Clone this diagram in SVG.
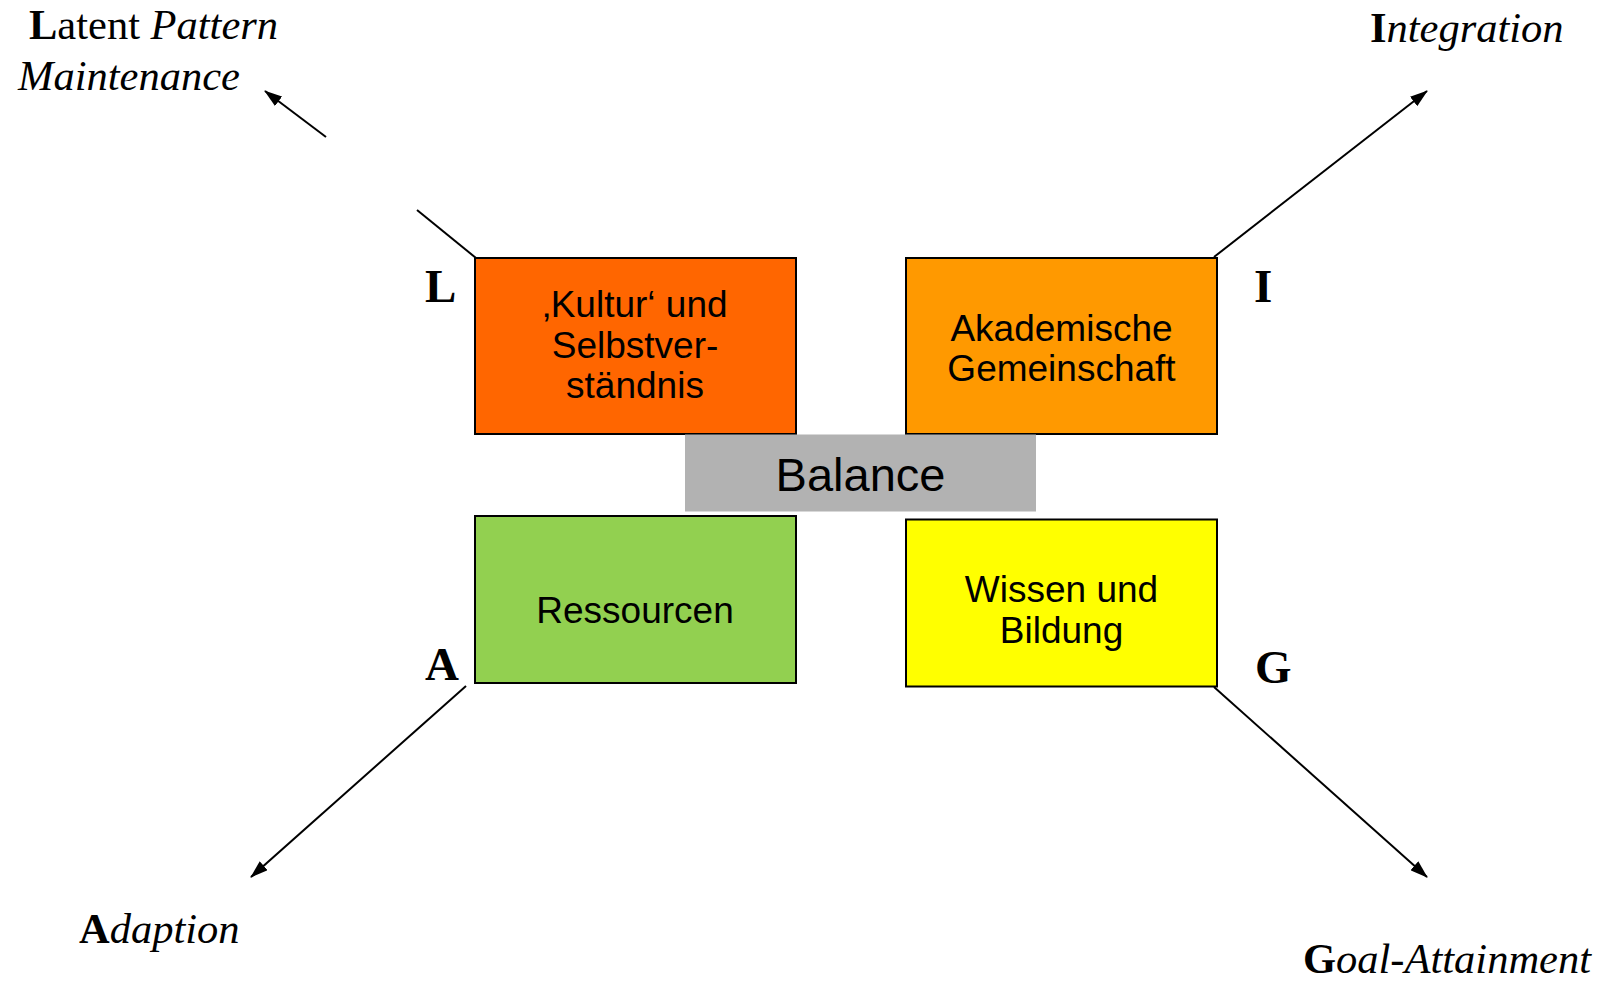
<svg xmlns="http://www.w3.org/2000/svg" width="1598" height="984" viewBox="0 0 1598 984">
  <style>
    .box { stroke: #000; stroke-width: 2; }
    .boxtext { font-family: "Liberation Sans", Arial, sans-serif; font-size: 37px; fill: #000; text-anchor: middle; }
    .balance { font-family: "Liberation Sans", Arial, sans-serif; font-size: 47px; fill: #000; text-anchor: middle; }
    .label { font-family: "Liberation Serif", "Times New Roman", serif; font-size: 42.5px; fill: #000; }
    .letter { font-family: "Liberation Serif", "Times New Roman", serif; font-size: 47px; font-weight: bold; fill: #000; }
    .conn { stroke: #000; stroke-width: 2; fill: none; }
    .b { font-weight: bold; font-style: normal; }
    .i { font-style: italic; }
  </style>
  <defs>
    <marker id="head" viewBox="0 0 18 12" refX="17" refY="6" markerWidth="18" markerHeight="12" markerUnits="userSpaceOnUse" orient="auto">
      <path d="M0,0 L18,6 L0,12 z" fill="#000"/>
    </marker>
  </defs>

  <rect width="1598" height="984" fill="#fff"/>

  <!-- connectors from the four quadrants outward -->
  <g id="connectors">
    <line class="conn" x1="476" y1="258" x2="417" y2="210"/>
    <line class="conn" x1="326" y1="137" x2="265" y2="91" marker-end="url(#head)"/>
    <line class="conn" x1="1214" y1="257" x2="1427" y2="91" marker-end="url(#head)"/>
    <line class="conn" x1="466" y1="686" x2="251" y2="877" marker-end="url(#head)"/>
    <line class="conn" x1="1214" y1="687" x2="1427" y2="877" marker-end="url(#head)"/>
  </g>

  <g id="node-kultur">
    <rect class="box" x="475" y="258" width="321" height="176" fill="#FF6600"/>
    <text class="boxtext" x="635" y="317">‚Kultur‘ und</text>
    <text class="boxtext" x="635" y="357.5">Selbstver-</text>
    <text class="boxtext" x="635" y="398">ständnis</text>
  </g>

  <g id="node-gemeinschaft">
    <rect class="box" x="906" y="258" width="311" height="176" fill="#FF9900"/>
    <text class="boxtext" x="1061.5" y="341">Akademische</text>
    <text class="boxtext" x="1061.5" y="381">Gemeinschaft</text>
  </g>

  <g id="node-ressourcen">
    <rect class="box" x="475" y="516" width="321" height="167" fill="#92D050"/>
    <text class="boxtext" x="635" y="623">Ressourcen</text>
  </g>

  <g id="node-wissen">
    <rect class="box" x="906" y="519.5" width="311" height="167" fill="#FFFF00"/>
    <text class="boxtext" x="1061.5" y="601.5">Wissen und</text>
    <text class="boxtext" x="1061.5" y="642.5">Bildung</text>
  </g>

  <g id="node-balance">
    <rect x="685" y="434.5" width="351" height="77" fill="#B2B2B2"/>
    <text class="balance" x="860.5" y="491">Balance</text>
  </g>

  <!-- quadrant letters -->
  <g id="letter-L"><text class="letter" x="425" y="301.5">L</text></g>
  <g id="letter-I"><text class="letter" x="1254" y="301.5">I</text></g>
  <g id="letter-A"><text class="letter" x="425" y="679.5">A</text></g>
  <g id="letter-G"><text class="letter" x="1255" y="682.5">G</text></g>

  <!-- function labels -->
  <g id="label-latent">
    <text class="label" x="29" y="38.5"><tspan class="b">L</tspan>atent <tspan class="i">Pattern</tspan></text>
    <text class="label i" x="18" y="89.5">Maintenance</text>
  </g>
  <g id="label-integration">
    <text class="label" x="1370" y="41.5"><tspan class="b">I</tspan><tspan class="i">ntegration</tspan></text>
  </g>
  <g id="label-adaption">
    <text class="label" x="79" y="943"><tspan class="b">A</tspan><tspan class="i">daption</tspan></text>
  </g>
  <g id="label-goal">
    <text class="label" x="1303" y="973"><tspan class="b">G</tspan><tspan class="i">oal-Attainment</tspan></text>
  </g>
</svg>
